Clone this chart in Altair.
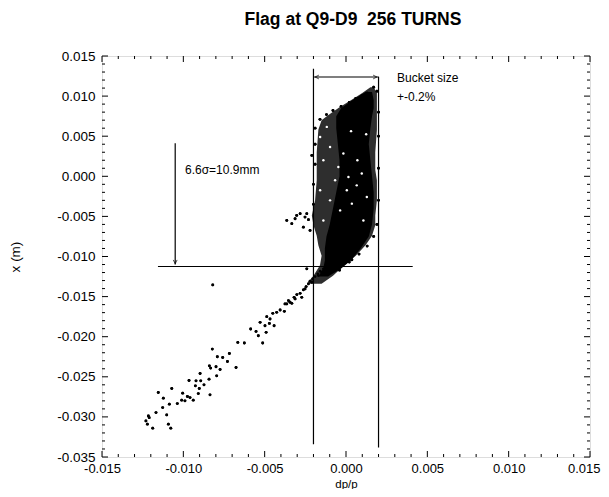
import altair as alt
import pandas as pd

# ---- data ----
# outer envelope of the particle cloud: level x (m), left / right dp/p
env_lvl = [0.0111, 0.0104, 0.0096, 0.0086, 0.0076, 0.0070, 0.0058, 0.0030, 0.0008, -0.0005, -0.0030,
           -0.0049, -0.0061, -0.0074, -0.0086, -0.0099, -0.0111, -0.0124, -0.0134]
env_lo = [0.0015, 0.0010, 0.0004, -0.0004, -0.0011, -0.0015, -0.0017, -0.0018, -0.0018, -0.0018, -0.0019,
          -0.0021, -0.0020, -0.0018, -0.0017, -0.0015, -0.0016, -0.0020, -0.0024]
env_hi = [0.0017, 0.0019, 0.0019, 0.0019, 0.0019, 0.0019, 0.0019, 0.0018, 0.0018, 0.0019, 0.0019,
          0.0018, 0.0018, 0.0016, 0.0012, 0.0006, -0.0001, -0.0008, -0.0015]

# densest (solid black) part of the cloud
core_lvl = [0.0105, 0.0095, 0.0085, 0.0075, 0.0060, 0.0040, 0.0020, 0.0000, -0.0020, -0.0040, -0.0060,
            -0.0075, -0.0090, -0.0105, -0.0115, -0.0125]
core_lo = [0.0012, 0.0004, -0.0003, -0.0006, -0.0006, -0.0005, -0.0004, -0.0004, -0.0006, -0.0008, -0.0010,
           -0.0012, -0.0013, -0.0013, -0.0014, -0.0017]
core_hi = [0.0016, 0.0017, 0.0017, 0.0016, 0.0015, 0.0014, 0.0015, 0.0016, 0.0017, 0.0017, 0.0016,
           0.0014, 0.0009, 0.0003, -0.0003, -0.0011]

# white gaps seen inside the dense cloud
gap_dp = [0.00031, 0.00124, -0.00016, 0.00070, -0.00098, -0.00047, 0.00097, -0.00139, 0.00015, -0.00118,
          -0.00159, -0.00067, 0.00005, -0.00098, 0.00066, -0.00036, 0.00128, -0.00139, 0.00036, 0.00107,
          -0.00159]
gap_x = [0.00563, 0.00525, 0.00284, 0.00200, 0.00366, 0.00116, 0.00034, 0.00200, -0.00009, 0.00616,
         0.00491, -0.00050, -0.00175, -0.00300, -0.00113, -0.00425, -0.00259, -0.00550, -0.00341, -0.00550,
         -0.00175]

# individual particles (tail, outliers, edge speckles)
pt_dp = [-0.00819, -0.00822, -0.00791, -0.00758, -0.00717, -0.00729, -0.00840, -0.00832, -0.00799, -0.00774,
         -0.00676, -0.00795, -0.00897, -0.00842, -0.00922, -0.00965, -0.00893, -0.00873, -0.00926, -0.00902,
         -0.01071, -0.01154, -0.01004, -0.00975, -0.00959, -0.01123, -0.01010, -0.00990, -0.00939, -0.00908,
         -0.00836, -0.01086, -0.01037, -0.01127, -0.01168, -0.01102, -0.01215, -0.01230, -0.01221, -0.01188,
         -0.01092, -0.01077, -0.01210,
         -0.00665, -0.00625, -0.00586, -0.00553, -0.00539, -0.00512, -0.00491, -0.00528, -0.00498, -0.00471,
         -0.00442, -0.00487, -0.00467, -0.00450, -0.00426, -0.00405, -0.00379, -0.00375, -0.00354, -0.00333,
         -0.00319, -0.00302, -0.00282, -0.00272, -0.00262, -0.00245, -0.00231, -0.00221, -0.00204, -0.00190,
         -0.00173, -0.00159, -0.00139, -0.00108, -0.00241, -0.00364, -0.00344, -0.00313, -0.00252, -0.00210,
         -0.00170, -0.00149, -0.00129, -0.00098, -0.00077, -0.00057, -0.00036, 0.00036, -0.00077,
         -0.00364, -0.00313, -0.00303, -0.00282, -0.00252, -0.00231, -0.00333, -0.00262, -0.00221, -0.00241,
         -0.00210,
         0.00170, 0.00190, 0.00130, 0.00100, 0.00060, 0.00020, -0.00030, -0.00080, -0.00120, -0.00160,
         -0.00190, -0.00190, -0.00190, -0.00200, -0.00200, 0.00200, 0.00200, 0.00200, 0.00200, 0.00190,
         0.00170, 0.00130, 0.00080, 0.00020, -0.00040]
pt_x = [-0.01354, -0.02154, -0.02250, -0.02259, -0.02209, -0.02309, -0.02363, -0.02391, -0.02375, -0.02409,
        -0.02384, -0.02488, -0.02459, -0.02529, -0.02550, -0.02546, -0.02550, -0.02600, -0.02613, -0.02646,
        -0.02646, -0.02696, -0.02704, -0.02746, -0.02759, -0.02766, -0.02791, -0.02800, -0.02791, -0.02709,
        -0.02725, -0.02841, -0.02834, -0.02884, -0.02946, -0.02975, -0.02988, -0.03050, -0.03091, -0.03141,
        -0.03091, -0.03141, -0.03010,
        -0.02071, -0.02079, -0.01904, -0.01934, -0.01988, -0.02079, -0.01946, -0.01821, -0.01863, -0.01834,
        -0.01863, -0.01750, -0.01779, -0.01709, -0.01696, -0.01667, -0.01684, -0.01591, -0.01550, -0.01584,
        -0.01509, -0.01475, -0.01459, -0.01509, -0.01416, -0.01375, -0.01341, -0.01309, -0.01279, -0.01250,
        -0.01216, -0.01184, -0.01154, -0.01134, -0.01154, -0.01591, -0.01570, -0.01529, -0.01404, -0.01321,
        -0.01238, -0.01196, -0.01154, -0.01113, -0.01071, -0.01029, -0.00988, -0.01041, -0.01175,
        -0.00550, -0.00529, -0.00488, -0.00466, -0.00509, -0.00541, -0.00591, -0.00634, -0.00675, -0.00466,
        0.00260,
        0.01110, 0.01060, 0.01040, 0.01010, 0.00970, 0.00920, 0.00870, 0.00820, 0.00770, 0.00710,
        0.00600, 0.00400, 0.00150, -0.00100, -0.00350, 0.00800, 0.00500, 0.00100, -0.00300, -0.00600,
        -0.00750, -0.00870, -0.00970, -0.01070, -0.01170]

x_ticks = [-0.015, -0.010, -0.005, 0.000, 0.005, 0.010, 0.015]
y_ticks = [-0.035, -0.030, -0.025, -0.020, -0.015, -0.010, -0.005, 0.000, 0.005, 0.010, 0.015]
x_minor = [-0.014, -0.013, -0.012, -0.011, -0.009, -0.008, -0.007, -0.006, -0.004, -0.003, -0.002, -0.001,
           0.001, 0.002, 0.003, 0.004, 0.006, 0.007, 0.008, 0.009, 0.011, 0.012, 0.013, 0.014]
y_minor = [-0.034, -0.033, -0.032, -0.031, -0.029, -0.028, -0.027, -0.026, -0.024, -0.023, -0.022, -0.021,
           -0.019, -0.018, -0.017, -0.016, -0.014, -0.013, -0.012, -0.011, -0.009, -0.008, -0.007, -0.006,
           -0.004, -0.003, -0.002, -0.001, 0.001, 0.002, 0.003, 0.004, 0.006, 0.007, 0.008, 0.009,
           0.011, 0.012, 0.013, 0.014]

# annotation lines: (x0, y0) -> (x1, y1)
seg_x0 = [-0.002, 0.002, -0.01156, -0.0105, -0.002]
seg_y0 = [0.0134, 0.0124, -0.01125, 0.00413, 0.01238]
seg_x1 = [-0.002, 0.002, 0.0041, -0.0105, 0.002]
seg_y1 = [-0.0334, -0.0338, -0.01125, -0.0110, 0.01238]

W, H = 488, 401
xs = alt.Scale(domain=[-0.015, 0.015], nice=False, zero=False)
ys = alt.Scale(domain=[-0.035, 0.015], nice=False, zero=False)
FONT = "Liberation Sans"
minus_fix = "replace(format(datum.value, '.3f'), '\u2212', '-')"

env = pd.DataFrame({"lvl": env_lvl, "lo": env_lo, "hi": env_hi})
core = pd.DataFrame({"lvl": core_lvl, "lo": core_lo, "hi": core_hi})
gaps = pd.DataFrame({"dp": gap_dp, "x": gap_x})
pts = pd.DataFrame({"dp": pt_dp, "x": pt_x})
segs = pd.DataFrame({"x0": seg_x0, "y0": seg_y0, "x1": seg_x1, "y1": seg_y1})

base_x = alt.X("dp:Q", scale=xs, title="dp/p",
               axis=alt.Axis(values=x_ticks, labelExpr=minus_fix, ticks=False, domain=False, grid=False,
                             labelFlush=False, labelPadding=5, labelFontSize=13, labelFont=FONT,
                             labelColor="black",
                             labelAlign={"condition": {"test": "datum.value > 0.014", "value": "right"},
                                         "value": "center"},
                             labelOffset={"condition": {"test": "datum.value > 0.014", "value": 10},
                                          "value": 0},
                             titleFont=FONT, titleFontSize=11.5, titleFontWeight="normal",
                             titleColor="black", titleBaseline="bottom", titleY=32))
base_y = alt.Y("x:Q", scale=ys, title="x (m)",
               axis=alt.Axis(values=y_ticks, labelExpr=minus_fix, ticks=False, domain=False, grid=False,
                             labelFlush=False, labelPadding=7, labelFontSize=13.5, labelFont=FONT,
                             labelColor="black", titleFont=FONT, titleFontSize=13.5, titleFontWeight="normal",
                             titleColor="black", titleX=-80))

points = alt.Chart(pts).mark_circle(size=8, color="black", opacity=1).encode(x=base_x, y=base_y)

env_area = alt.Chart(env).mark_area(orient="horizontal", color="#2e2e2e", opacity=1).encode(
    y=alt.Y("lvl:Q", scale=ys), x=alt.X("lo:Q", scale=xs), x2="hi:Q")
core_area = alt.Chart(core).mark_area(orient="horizontal", color="black", opacity=1).encode(
    y=alt.Y("lvl:Q", scale=ys), x=alt.X("lo:Q", scale=xs), x2="hi:Q")
gap_pts = alt.Chart(gaps).mark_circle(size=6, color="white", opacity=1).encode(
    x=alt.X("dp:Q", scale=xs), y=alt.Y("x:Q", scale=ys))

lines = alt.Chart(segs).mark_rule(color="black", strokeWidth=1.2).encode(
    x=alt.X("x0:Q", scale=xs), y=alt.Y("y0:Q", scale=ys), x2="x1:Q", y2="y1:Q")

# arrow heads
heads = pd.DataFrame({"hx": [-0.0105, -0.0019, 0.0019], "hy": [-0.0109, 0.01238, 0.01238],
                      "ang": [0, 90, 270]})
arrow_heads = alt.Chart(heads).mark_point(shape="M-0.6,-1.2L0,0L0.6,-1.2", filled=False, color="black",
                                          size=40, strokeWidth=1).encode(
    x=alt.X("hx:Q", scale=xs), y=alt.Y("hy:Q", scale=ys), angle=alt.Angle("ang:Q", scale=None))

labels = pd.DataFrame({"tx": [-0.0099, 0.00314, 0.00314], "ty": [0.00075, 0.01225, 0.00988],
                       "t": ["6.6\u03c3=10.9mm", "Bucket size", "+-0.2%"]})
ann = alt.Chart(labels).mark_text(align="left", baseline="middle", font=FONT, fontSize=12,
                                  color="black").encode(
    x=alt.X("tx:Q", scale=xs), y=alt.Y("ty:Q", scale=ys), text="t:N")

# inward ticks on all four sides
def xticks(vals, ln):
    d = pd.DataFrame({"v": vals})
    b = alt.Chart(d).mark_rule(color="black", strokeWidth=1).encode(
        x=alt.X("v:Q", scale=xs), y=alt.value(H), y2=alt.value(H - ln))
    t = alt.Chart(d).mark_rule(color="black", strokeWidth=1).encode(
        x=alt.X("v:Q", scale=xs), y=alt.value(0), y2=alt.value(ln))
    return b + t

def yticks(vals, ln):
    d = pd.DataFrame({"v": vals})
    l = alt.Chart(d).mark_rule(color="black", strokeWidth=1).encode(
        y=alt.Y("v:Q", scale=ys), x=alt.value(0), x2=alt.value(ln))
    r = alt.Chart(d).mark_rule(color="black", strokeWidth=1).encode(
        y=alt.Y("v:Q", scale=ys), x=alt.value(W), x2=alt.value(W - ln))
    return l + r

chart = alt.layer(
    points, env_area, core_area, gap_pts, points.encode(), lines, arrow_heads, ann,
    xticks(x_ticks, 6), xticks(x_minor, 3), yticks(y_ticks, 6), yticks(y_minor, 3)
).properties(
    width=W, height=H,
    title=alt.TitleParams("Flag at Q9-D9\u00a0 256 TURNS", font=FONT, fontSize=17.5, fontWeight="bold",
                          color="black", anchor="middle", offset=21, dx=7),
    padding={"left": 94, "top": 48, "right": 11, "bottom": 32},
    autosize=alt.AutoSizeParams(type="none")
).configure_view(stroke="black", strokeWidth=1.5).configure(background="white")

chart.save("out.html", embed_options={"renderer": "svg", "actions": False})
